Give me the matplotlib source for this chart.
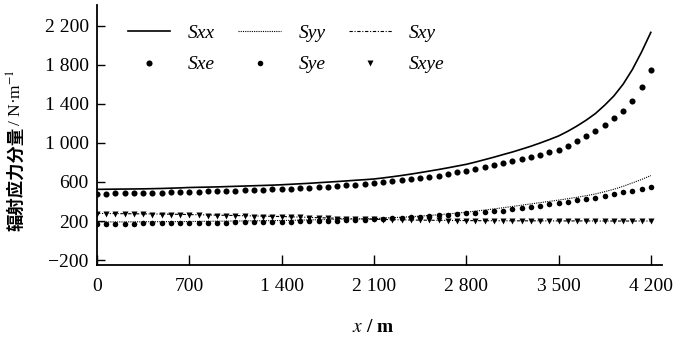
import numpy as np
import matplotlib.pyplot as plt

plt.rcParams['font.family'] = ['Liberation Serif', 'Noto Sans CJK SC']
plt.rcParams['mathtext.fontset'] = 'stix'

# distance along the section (m), one sample every 70 m
dist = np.arange(0, 4201, 70)

# computed components
Sxx = [524, 525, 526, 527, 528, 529, 531, 533, 536, 539,
       543, 545, 547, 549, 552, 555, 558, 561, 564, 567,
       571, 576, 581, 586, 592, 598, 604, 610, 617, 623,
       630, 641, 653, 666, 680, 695, 711, 727, 744, 762,
       780, 803, 828, 853, 880, 906, 935, 965, 998, 1033,
       1070, 1118, 1172, 1232, 1300, 1385, 1480, 1600, 1750, 1930,
       2130]
Syy = [190, 190, 191, 191, 192, 192, 193, 193, 194, 194,
       195, 196, 197, 198, 199, 200, 201, 202, 203, 204,
       205, 207, 209, 211, 213, 215, 217, 219, 221, 223,
       225, 229, 234, 239, 244, 250, 257, 264, 272, 281,
       290, 301, 312, 324, 336, 349, 362, 375, 388, 401,
       414, 428, 443, 459, 477, 500, 525, 555, 590, 625,
       665]
Sxy = [278, 277, 276, 275, 274, 273, 272, 271, 270, 268,
       266, 264, 262, 260, 258, 256, 254, 252, 250, 248,
       246, 243, 240, 237, 234, 231, 228, 225, 222, 220,
       218, 216, 214, 212, 210, 209, 208, 207, 206, 205,
       204, 204, 203, 203, 203, 202, 202, 202, 202, 201,
       201, 201, 201, 201, 200, 200, 200, 200, 200, 200,
       200]

# estimated components (markers)
Sxe = [480, 481, 482, 483, 484, 486, 488, 490, 492, 494,
       497, 499, 502, 505, 508, 511, 514, 517, 520, 523,
       527, 531, 535, 540, 545, 551, 557, 564, 572, 580,
       588, 596, 605, 615, 626, 638, 651, 665, 680, 697,
       715, 735, 755, 775, 795, 815, 834, 855, 878, 903,
       930, 965, 1015, 1065, 1118, 1180, 1250, 1330, 1430, 1570,
       1745]
Sye = [172, 172, 173, 173, 174, 175, 175, 176, 177, 178,
       179, 180, 181, 182, 183, 185, 186, 188, 189, 191,
       192, 194, 196, 198, 200, 203, 205, 208, 211, 215,
       219, 223, 228, 233, 239, 245, 251, 257, 264, 271,
       278, 285, 292, 299, 307, 318, 330, 343, 356, 369,
       383, 397, 411, 425, 440, 457, 475, 493, 512, 532,
       552]
Sxye = [272, 271, 270, 269, 268, 267, 266, 265, 264, 262,
        260, 258, 256, 254, 252, 250, 248, 246, 244, 242,
        240, 238, 236, 233, 230, 228, 225, 222, 220, 218,
        216, 214, 212, 210, 209, 208, 207, 206, 205, 204,
        204, 203, 203, 202, 202, 202, 201, 201, 201, 201,
        200, 200, 200, 200, 200, 200, 200, 200, 200, 200,
        200]

yticks = [-200, 200, 600, 1000, 1400, 1800, 2200]
ytick_labels = ['\u2212200', '200', '600', '1 000', '1 400', '1 800', '2 200']
xticks = [0, 700, 1400, 2100, 2800, 3500, 4200]
xtick_labels = ['0', '700', '1 400', '2 100', '2 800', '3 500', '4 200']

fig = plt.figure(figsize=(6.77, 3.43), dpi=100)
ax = fig.add_axes([0.1433, 0.2274, 0.8346, 0.758])

ax.plot(dist, Sxx, '-k', lw=1.2, label='Sxx')
ax.plot(dist, Sxe, 'o', color='k', ms=4.4, mec='none', label='Sxe')
ax.plot(dist, Syy, color='k', lw=0.8, ls=(0, (1, 1)), label='Syy')
ax.plot(dist, Sye, 'o', color='k', ms=4.0, mec='none', label='Sye')
ax.plot(dist, Sxy, color='k', lw=0.8, ls=(0, (3, 1.5, 1, 1.5)), label='Sxy')
ax.plot(dist, Sxye, 'v', color='k', ms=4.6, mec='none', label='Sxye')

ax.set_xlim(0, 4285)
ax.set_ylim(-250, 2410)
ax.set_xticks(xticks)
ax.set_xticklabels(xtick_labels)
ax.set_yticks(yticks)
ax.set_yticklabels(ytick_labels)
ax.tick_params(direction='in', labelsize=14, width=1.0)
ax.tick_params(axis='x', length=7, pad=9)
ax.tick_params(axis='y', length=6, pad=6)
for s in ['top', 'right']:
    ax.spines[s].set_visible(False)
ax.spines['left'].set_linewidth(1.3)
ax.spines['bottom'].set_linewidth(1.3)

leg = ax.legend(ncol=3, loc='upper left', bbox_to_anchor=(0.054, 0.925),
                frameon=False, fontsize=14, handlelength=2.2, handletextpad=0.9,
                columnspacing=1.2, labelspacing=0.7, borderpad=0, borderaxespad=0,
                numpoints=1)
for t in leg.get_texts():
    t.set_fontstyle('italic')

# y label: Chinese part bold, unit part regular
fig.text(16 / 677, 1 - 231 / 343, '辐射应力分量', rotation=90, ha='center', va='bottom',
         family='Noto Sans CJK SC', fontweight='bold', fontsize=12.5)
fig.text(16 / 677, 1 - 130 / 343, ' / N·m$^{-1}$', rotation=90, ha='center', va='bottom',
         fontsize=12.5)
fig.text(373 / 677, 1 - 327 / 343, '$x$ / m', ha='center', va='center',
         fontsize=14, fontweight='bold')

plt.savefig('out.png', dpi=100)
